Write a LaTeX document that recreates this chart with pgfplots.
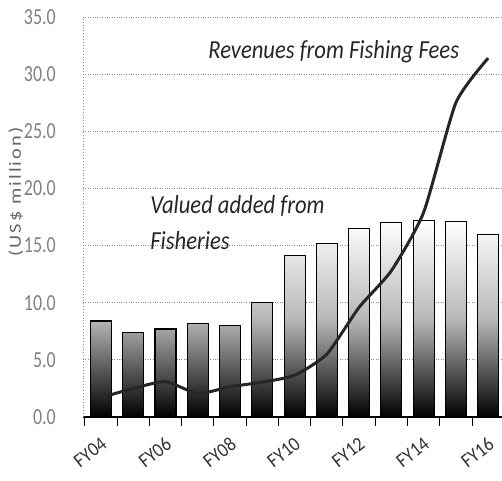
\documentclass[border=0pt]{standalone}
\usepackage{fontspec}
\setmainfont{Carlito}
\usepackage{pgfplots}
\pgfplotsset{compat=1.18}
\newfontfamily\tickfont[FakeStretch=0.78]{Carlito}
\newfontfamily\annfont[FakeStretch=0.87]{Carlito}
\newfontfamily\ylabfont[FakeStretch=1.2,LetterSpace=12]{Carlito}
\newfontfamily\xfont[FakeStretch=0.9]{Carlito}
\tikzset{xlab/.style={xshift=-1pt, yshift=-19pt, rotate=38, anchor=north east, inner sep=0pt, color=black!80, font=\xfont\fontsize{20}{20}\selectfont}}
\begin{document}
\begin{tikzpicture}
\begin{axis}[
  name=ax,
  scale only axis,
  width=419pt, height=400pt,
  xmin=-0.56, xmax=12.43,
  ymin=0, ymax=35,
  axis x line*=bottom,
  axis y line*=left,
  x axis line style={black, line width=1.2pt, -},
  y axis line style={black!45, dotted, line width=0.9pt, -},
  xtick={-0.5,0.5,1.5,2.5,3.5,4.5,5.5,6.5,7.5,8.5,9.5,10.5,11.5,12.5},
  xticklabels={},
  xtick style={black, line width=1pt},
  tick align=outside,
  major tick length=9pt,
  ytick={0,5,10,15,20,25,30,35},
  ytick style={draw=none},
  yticklabels={0.0,5.0,10.0,15.0,20.0,25.0,30.0,35.0},
  yticklabel style={font=\tickfont\fontsize{23}{23}\selectfont, color=black!50, anchor=east, inner sep=0pt, xshift=-18pt},
  ymajorgrids,
  grid style={black!45, dotted, line width=0.9pt},
  clip=false,
]
\addplot[ybar, bar width=21pt, draw=black, line width=1.2pt,
  bottom color=black, top color=white, middle color=black!28]
  coordinates {(0,8.4) (1,7.4) (2,7.7) (3,8.2) (4,8.0) (5,10.0) (6,14.1) (7,15.2) (8,16.5) (9,17.0) (10,17.2) (11,17.1) (12,16.0)};
\addplot[smooth, tension=0.35, line width=3pt, color=black!85]
  coordinates {(0,1.7) (1,2.5) (2,3.1) (3,2.05) (4,2.65) (5,3.05) (6,3.65) (7,5.5) (8,9.6) (9,12.8) (10,17.9) (11,27.5) (12,31.4)};
\node[anchor=base west, inner sep=0pt, color=black!85, font=\annfont\itshape\fontsize{26}{26}\selectfont] at (axis cs:3.32,31.4) {Revenues from Fishing Fees};
\node[anchor=base west, inner sep=0pt, color=black!85, font=\annfont\itshape\fontsize{26}{26}\selectfont] at (axis cs:1.52,17.85) {Valued added from};
\node[anchor=base west, inner sep=0pt, color=black!85, font=\annfont\itshape\fontsize{26}{26}\selectfont] at (axis cs:1.52,14.7) {Fisheries};
\node[rotate=90, inner sep=0pt, color=black!60, font=\ylabfont\fontsize{17}{17}\selectfont] at (axis description cs:-0.16,0.5625) {(US\$ million)};
\node[xlab] at (axis cs:0,0) {FY04};
\node[xlab] at (axis cs:2,0) {FY06};
\node[xlab] at (axis cs:4,0) {FY08};
\node[xlab] at (axis cs:6,0) {FY10};
\node[xlab] at (axis cs:8,0) {FY12};
\node[xlab] at (axis cs:10,0) {FY14};
\node[xlab] at (axis cs:12,0) {FY16};
\end{axis}
\pgfresetboundingbox
\path[use as bounding box] ([xshift=-83pt,yshift=-63pt]ax.south west) rectangle ([yshift=17pt]ax.north east);
\end{tikzpicture}
\end{document}
